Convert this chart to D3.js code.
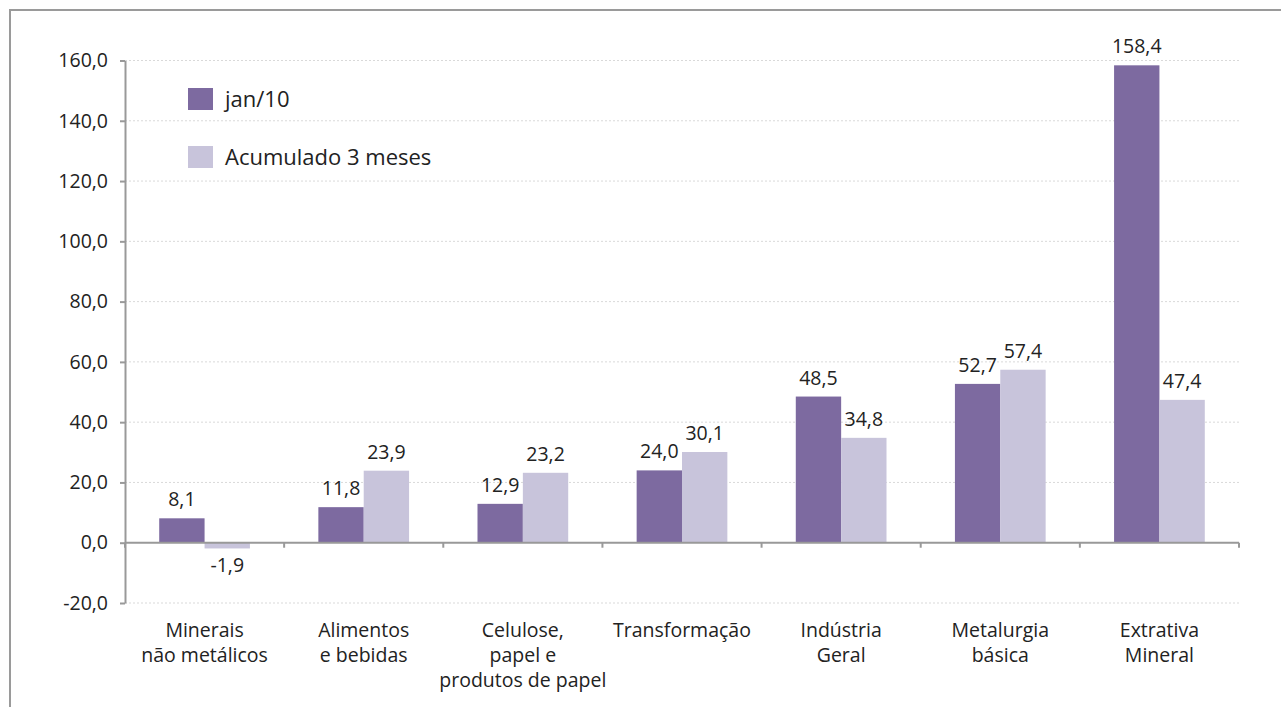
<!DOCTYPE html>
<html>
<head>
<meta charset="utf-8">
<script src="https://cdn.jsdelivr.net/npm/d3@7"></script>
<style>
  body { margin: 0; background: #fff; }
  svg { display: block; font-family: "Open Sans", sans-serif; }
</style>
</head>
<body>
<div id="chart"></div>
<script>
// chart data
const categories = [
  ['Minerais', 'não metálicos'],
  ['Alimentos', 'e bebidas'],
  ['Celulose,', 'papel e', 'produtos de papel'],
  ['Transformação'],
  ['Indústria', 'Geral'],
  ['Metalurgia', 'básica'],
  ['Extrativa', 'Mineral']
];
const seriesNames = ['jan/10', 'Acumulado 3 meses'];
const janValues = [8.1, 11.8, 12.9, 24.0, 48.5, 52.7, 158.4];
const acumValues = [-1.9, 23.9, 23.2, 30.1, 34.8, 57.4, 47.4];
const yTicks = [-20, 0, 20, 40, 60, 80, 100, 120, 140, 160];

const width = 1281, height = 707;
const colors = ['#7d6aa0', '#c8c4db'];
const textColor = '#222';
const fs = 19.5;
// comma decimal, plain hyphen for negatives
const fmt = v => (v < 0 ? '-' : '') + Math.abs(v).toFixed(1).replace('.', ',');

const svg = d3.select('#chart').append('svg')
  .attr('width', width)
  .attr('height', height);

// outer frame
svg.append('rect')
  .attr('x', 10).attr('y', 10)
  .attr('width', 1290).attr('height', 720)
  .attr('fill', 'none')
  .attr('stroke', '#9a9a9a')
  .attr('stroke-width', 2);

const left = 125, right = 1239;
const y = d3.scaleLinear().domain([-20, 160]).range([603, 60.5]);
const keys = categories.map((c, i) => i);
const x0 = d3.scaleBand().domain(keys).range([left, right]).paddingInner(0.43).paddingOuter(0.215);
const x1 = d3.scaleBand().domain([0, 1]).range([0, x0.bandwidth()]);

// gridlines
svg.append('g')
  .selectAll('line')
  .data(yTicks.filter(t => t !== 0))
  .enter().append('line')
  .attr('x1', left).attr('x2', right)
  .attr('y1', d => y(d)).attr('y2', d => y(d))
  .attr('stroke', '#d9d9d9')
  .attr('stroke-dasharray', '2,2');

// y axis
const yAxis = svg.append('g')
  .attr('transform', `translate(${left},0)`)
  .call(d3.axisLeft(y).tickValues(yTicks).tickSize(5).tickSizeOuter(0).tickFormat(fmt));
yAxis.select('.domain').attr('stroke', '#999').attr('stroke-width', 2);
yAxis.selectAll('.tick line').attr('stroke', '#999').attr('stroke-width', 2);
yAxis.selectAll('.tick text')
  .attr('x', -17)
  .attr('font-size', fs)
  .attr('font-family', '"Open Sans", sans-serif')
  .attr('fill', textColor);

// bars
const seriesData = [janValues, acumValues];
seriesData.forEach((vals, s) => {
  svg.append('g').selectAll('rect')
    .data(vals)
    .enter().append('rect')
    .attr('x', (d, i) => x0(i) + x1(s))
    .attr('width', x1.bandwidth())
    .attr('y', d => y(Math.max(0, d)))
    .attr('height', d => Math.abs(y(d) - y(0)))
    .attr('fill', colors[s]);

  svg.append('g').selectAll('text')
    .data(vals)
    .enter().append('text')
    .attr('x', (d, i) => x0(i) + x1(s) + x1.bandwidth() / 2)
    .attr('y', d => d >= 0 ? y(d) - 12 : y(d) + 24)
    .attr('text-anchor', 'middle')
    .attr('font-size', fs)
    .attr('fill', textColor)
    .text(fmt);
});

// x axis at zero
const xAxisG = svg.append('g');
xAxisG.append('line')
  .attr('x1', left).attr('x2', right)
  .attr('y1', y(0)).attr('y2', y(0))
  .attr('stroke', '#999').attr('stroke-width', 2);
const step = (right - left) / categories.length;
xAxisG.selectAll('.xt')
  .data(d3.range(categories.length + 1))
  .enter().append('line')
  .attr('x1', d => left + d * step).attr('x2', d => left + d * step)
  .attr('y1', y(0)).attr('y2', y(0) + 5)
  .attr('stroke', '#999').attr('stroke-width', 2);

// category labels
const catG = svg.append('g').selectAll('text')
  .data(categories)
  .enter().append('text')
  .attr('text-anchor', 'middle')
  .attr('font-size', fs)
  .attr('fill', textColor);
catG.each(function (lines, i) {
  const cx = x0(i) + x0.bandwidth() / 2;
  d3.select(this).selectAll('tspan')
    .data(lines)
    .enter().append('tspan')
    .attr('x', cx)
    .attr('y', (d, j) => 637 + j * 25)
    .text(d => d);
});

// legend
const legend = svg.append('g').selectAll('g')
  .data(seriesNames)
  .enter().append('g')
  .attr('transform', (d, i) => `translate(188,${88 + i * 58})`);
legend.append('rect')
  .attr('width', 25).attr('height', 22)
  .attr('fill', (d, i) => colors[i]);
legend.append('text')
  .attr('x', 37).attr('y', 19)
  .attr('font-size', 22)
  .attr('fill', textColor)
  .text(d => d);
</script>
</body>
</html>
